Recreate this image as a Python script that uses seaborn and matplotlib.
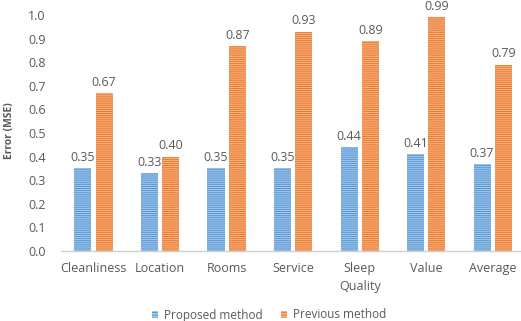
import matplotlib
matplotlib.use("Agg")
import matplotlib.pyplot as plt
from matplotlib.patches import Patch
import seaborn as sns
import pandas as pd

aspects = ["Cleanliness", "Location", "Rooms", "Service", "Sleep\nQuality", "Value", "Average"]
proposed = [0.35, 0.33, 0.35, 0.35, 0.44, 0.41, 0.37]
previous = [0.67, 0.40, 0.87, 0.93, 0.89, 0.99, 0.79]
methods = ["Proposed method", "Previous method"]
y_ticks = [0.0, 0.1, 0.2, 0.3, 0.4, 0.5, 0.6, 0.7, 0.8, 0.9, 1.0]

df = pd.DataFrame({
    "aspect": aspects * 2,
    "mse": proposed + previous,
    "method": [methods[0]] * len(aspects) + [methods[1]] * len(aspects),
})

sns.set_style("white")
plt.rcParams["font.family"] = ["Open Sans", "DejaVu Sans"]
plt.rcParams["hatch.linewidth"] = 0.8

text_col = "#595959"
face = {methods[0]: "#a9c9ec", methods[1]: "#f6b68a"}
stripe = {methods[0]: "#5b9bd5", methods[1]: "#ed7d31"}

fig = plt.figure(figsize=(5.21, 3.21), dpi=100)
ax = fig.add_axes([61 / 521, 70 / 321, 460 / 521, 236 / 321])

sns.barplot(data=df, x="aspect", y="mse", hue="method", hue_order=methods,
            palette=face, width=0.64, gap=0.2, ax=ax, legend=False,
            saturation=1)

for method, cont in zip(methods, ax.containers):
    for bar in cont:
        bar.set_hatch("--------")
        bar.set_edgecolor(stripe[method])
        bar.set_linewidth(0)
    ax.bar_label(cont, fmt="%.2f", padding=3, fontsize=9, color=text_col)

ax.set_ylim(0, 1.0)
ax.set_xlim(-0.49, 6.425)
ax.set_yticks(y_ticks)
ax.set_yticklabels([f"{t:.1f}" for t in y_ticks])
ax.tick_params(axis="both", length=0, labelsize=9, colors=text_col)
ax.tick_params(axis="y", pad=11)
ax.tick_params(axis="x", pad=8)
for lbl in ax.get_xticklabels():
    lbl.set_linespacing(1.45)
ax.set_xlabel("")
ax.set_ylabel("Error (MSE)", fontsize=7.5, fontweight="bold", color=text_col, labelpad=6)
ax.yaxis.set_label_coords(-0.1, 0.51)

for side in ["top", "right", "left"]:
    ax.spines[side].set_visible(False)
ax.spines["bottom"].set_color("#d0d0d0")
ax.spines["bottom"].set_linewidth(1.0)

handles = [Patch(facecolor=face[m], edgecolor=stripe[m], hatch="------", linewidth=0, label=m)
           for m in methods]
fig.legend(handles=handles, loc="center", bbox_to_anchor=(269 / 521, 1 - 315 / 321),
           ncol=2, frameon=False, fontsize=8.5, handlelength=0.5, handleheight=0.5,
           handletextpad=0.5, columnspacing=1.6, labelcolor=text_col,
           borderpad=0, borderaxespad=0)

fig.savefig("out.png", dpi=100)
